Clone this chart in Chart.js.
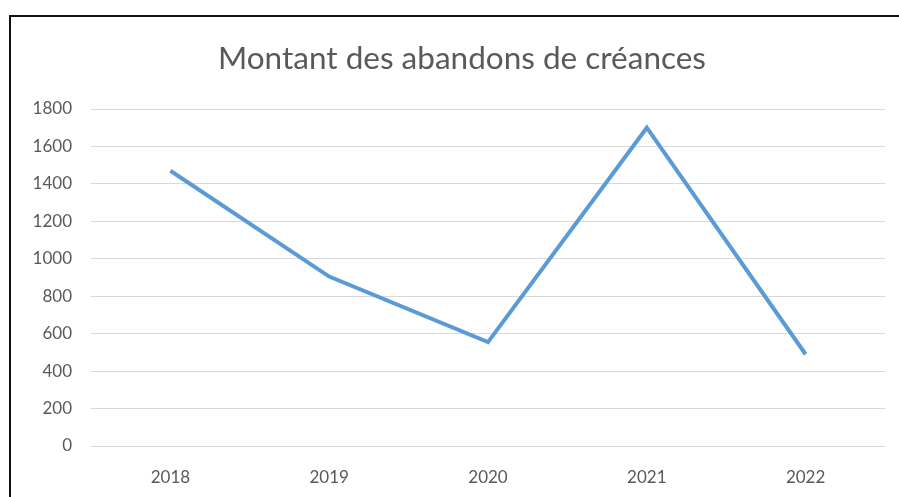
<!DOCTYPE html>
<html>
<head>
<meta charset="utf-8">
<script src="https://cdn.jsdelivr.net/npm/chart.js@4"></script>
<style>
  html, body { margin: 0; padding: 0; background: #fff; }
  body { width: 899px; height: 497px; position: relative; overflow: hidden; }
  #frame { position: absolute; left: 9px; top: 15px; width: 900px; height: 500px;
           border-left: 2px solid #111; border-top: 2px solid #111; box-sizing: border-box; }
  #wrap { position: absolute; left: 0; top: 0; width: 899px; height: 497px; }
</style>
</head>
<body>
<div id="frame"></div>
<div id="wrap"><canvas id="chart"></canvas></div>
<script>
const annees = ['2018', '2019', '2020', '2021', '2022'];
const montants = [1470, 905, 555, 1700, 490];
const yMin = 0;
const yMax = 1800;
const yStep = 200;

const titre = 'Montant des abandons de créances';
const gris = '#595959';

// titre centré sur le cadre (et pas sur la zone du graphique)
const titrePlugin = {
    id: 'titreCadre',
    afterDraw(chart) {
        const c = chart.ctx;
        c.save();
        c.fillStyle = gris;
        c.font = '31.5px Lato';
        c.textAlign = 'center';
        c.textBaseline = 'middle';
        c.fillText(titre, 462, 59);
        c.restore();
    }
};

const ctx = document.getElementById('chart').getContext('2d');
const chart = new Chart(ctx, {
    type: 'line',
    data: {
        labels: annees,
        datasets: [{
            label: 'Montant',
            data: montants,
            borderColor: '#5B9BD5',
            borderWidth: 4,
            pointRadius: 0,
            tension: 0,
            fill: false
        }]
    },
    options: {
        responsive: true,
        maintainAspectRatio: false,
        animation: false,
        layout: { padding: { left: 0, right: 14, top: 109, bottom: 0 } },
        plugins: {
            legend: { display: false },
            tooltip: { enabled: false },
            title: { display: false }
        },
        scales: {
            x: {
                offset: true,
                grid: { display: false },
                border: { display: false },
                ticks: { color: gris, font: { family: 'Lato', size: 17 }, padding: 13 },
                afterFit: scale => { scale.height = 51; }
            },
            y: {
                min: yMin,
                max: yMax,
                ticks: {
                    stepSize: yStep, color: gris, font: { family: 'Lato', size: 17 }, padding: 19,
                    callback: v => String(v)
                },
                grid: { color: '#D9D9D9', lineWidth: 1, drawTicks: false },
                border: { display: false },
                afterFit: scale => { scale.width = 91; }
            }
        }
    },
    plugins: [titrePlugin]
});
</script>
</body>
</html>
